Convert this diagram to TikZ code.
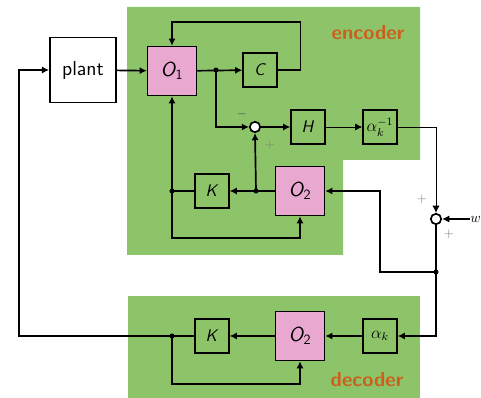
\documentclass[tikz,border=0pt]{standalone}
\usetikzlibrary{arrows.meta}
\definecolor{boxgreen}{RGB}{141,196,106}
\definecolor{obspink}{RGB}{232,168,208}
\definecolor{tagorange}{RGB}{205,95,30}
\newcommand{\obsname}[1]{\textit{O}\textsubscript{\kern-0.5pt #1}}

\begin{document}
\begin{tikzpicture}[x=0.025cm,y=-0.025cm,font=\sffamily,
  blk/.style={draw,line width=1.2pt,minimum size=0.84cm,inner sep=0pt,font=\sffamily\large},
  obs/.style={blk,fill=obspink,minimum size=1.22cm,font=\sffamily\Large},
  sumpt/.style={draw,circle,fill=white,line width=1.2pt,minimum size=2.6mm,inner sep=0pt},
  arr/.style={line width=1.2pt,-{Latex[length=1.8mm,width=1.8mm]}},
  thin arr/.style={line width=0.7pt,-{Latex[length=1.8mm,width=1.8mm]}},
  tag/.style={text=tagorange,font=\sffamily\bfseries\Large},
  sign/.style={text=gray,font=\small}]
\useasboundingbox (0,0) rectangle (481,398);
% the two green regions
\fill[boxgreen] (127,7) -- (420,7) -- (420,160) -- (343,160) -- (343,255) -- (127,255) -- cycle;
\fill[boxgreen] (128,296) rectangle (420,398);
\node[tag] (enc) at (368,33) {encoder};
\node[tag] (dec) at (367,380) {decoder};

% encoder
\node[blk,minimum width=1.65cm,minimum height=1.62cm,fill=white,font=\sffamily\Large] (plant) at (83,70) {plant};
\node[obs] (o1) at (172,71) {\obsname{1}};
\node[blk] (c) at (260,70) {\textit{C}};
\node[sumpt] (s1) at (255,127) {};
\node[blk] (h) at (308,127) {\textit{H}};
\node[blk] (ainv) at (380,127) {$\alpha_k^{-1}$};
\node[obs] (o2e) at (300,191) {\obsname{2}};
\node[blk] (ke) at (212,191) {\textit{K}};
\node[sumpt] (s2) at (436,219) {};
\node[anchor=west,inner sep=0pt] (w) at (470,219) {$w$};

% decoder
\node[blk] (ad) at (380,336) {$\alpha_k$};
\node[obs] (o2d) at (300,336) {\obsname{2}};
\node[blk] (kd) at (212,336) {\textit{K}};

\coordinate (d1) at (216,70);
\coordinate (d2) at (256,191);
\coordinate (d3) at (172,191);
\coordinate (d4) at (436,272);
\coordinate (d5) at (172,336);

\draw[arr] (plant) -- (o1);
\draw[arr] (o1) -- (c);
\draw[arr] (c.east) -| ++(23,-48) -| (o1.north);
\draw[arr] (d1) |- (s1);
\draw[arr] (s1) -- (h);
\draw[thin arr] (h) -- (ainv);
\draw[thin arr] (ainv.east) -| (s2.north);
\draw[arr] (w.west) -- (s2);
\draw[arr] (s2.south) |- (ad.east);
\draw[arr] (d4) -- ++(-56,0) |- (o2e.east);
\draw[arr] (o2e) -- (ke);
\draw[arr] (d2) -- (s1.south);
\draw[line width=1.2pt] (ke) -- (d3);
\draw[arr] (d3) -- (o1.south);
\draw[arr] (d3) -- ++(0,47) -| (o2e.south);
\draw[arr] (ad) -- (o2d);
\draw[arr] (o2d) -- (kd);
\draw[line width=1.2pt] (kd) -- (d5);
\draw[arr] (d5) -- ++(0,48) -| (o2d.south);
\draw[arr] (d5) -- ++(-153,0) |- (plant.west);
\foreach \p in {d1,d2,d3,d4,d5} \fill (\p) circle (1.8pt);

\node[sign,text=darkgray] (m1) at (242,114) {$-$};
\node[sign] (p1) at (270,145) {$+$};
\node[sign] (p2) at (422,199) {$+$};
\node[sign] (p3) at (449,234) {$+$};
\end{tikzpicture}
\end{document}
